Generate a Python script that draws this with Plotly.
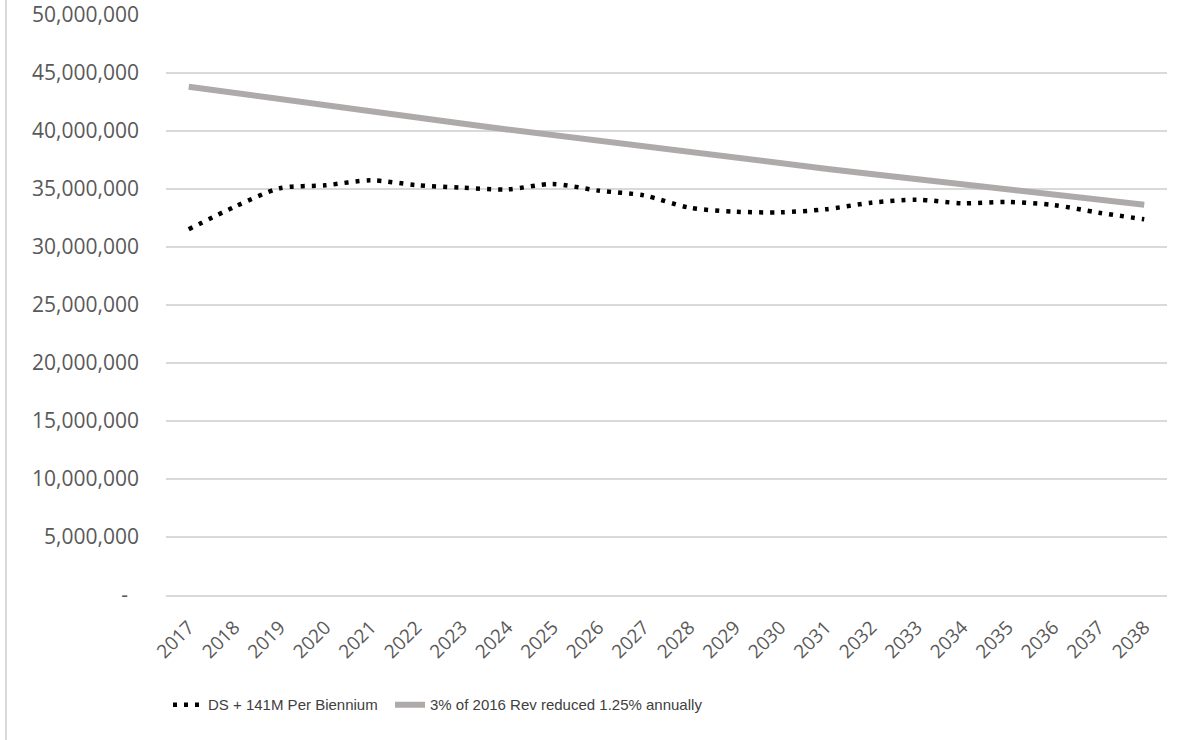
import plotly.graph_objects as go

years = [str(y) for y in range(2017, 2039)]

# Debt service plus $141M per biennium
ds_plus_141m = [31.53e6, 33.45e6, 35.06e6, 35.32e6, 35.75e6, 35.34e6, 35.11e6, 34.97e6,
                35.43e6, 34.86e6, 34.45e6, 33.39e6, 33.05e6, 32.99e6, 33.25e6, 33.82e6,
                34.08e6, 33.77e6, 33.88e6, 33.62e6, 32.96e6, 32.39e6]

# 3% of 2016 revenue, reduced 1.25% each year
rev_3pct = [43.82e6, 43.27e6, 42.73e6, 42.20e6, 41.67e6, 41.15e6, 40.64e6, 40.13e6,
            39.63e6, 39.13e6, 38.64e6, 38.16e6, 37.68e6, 37.21e6, 36.75e6, 36.29e6,
            35.83e6, 35.38e6, 34.94e6, 34.51e6, 34.07e6, 33.65e6]

y_tickvals = [0, 5e6, 10e6, 15e6, 20e6, 25e6, 30e6, 35e6, 40e6, 45e6, 50e6]
y_ticktext = ["-\u00a0\u00a0", "5,000,000", "10,000,000", "15,000,000", "20,000,000",
              "25,000,000", "30,000,000", "35,000,000", "40,000,000", "45,000,000",
              "50,000,000"]

label_font = "Open Sans, Calibri, sans-serif"
legend_font = "Liberation Sans, Arial, sans-serif"

fig = go.Figure()
fig.add_trace(go.Scatter(
    x=years, y=ds_plus_141m, name="DS + 141M Per Biennium", legend="legend",
    mode="lines", line=dict(color="#000000", width=4.5, dash="4px,7px", shape="spline", smoothing=0.8),
))
fig.add_trace(go.Scatter(
    x=years, y=rev_3pct, name="3% of 2016 Rev reduced 1.25% annually", legend="legend2",
    mode="lines", line=dict(color="#aeaaaa", width=6),
))

legend_common = dict(orientation="h", xanchor="left", yanchor="top", y=-0.161,
                     font=dict(family=legend_font, size=15, color="#404040"),
                     bgcolor="rgba(0,0,0,0)", itemwidth=30)

fig.update_layout(
    width=1192, height=740,
    margin=dict(l=166, r=25, t=15, b=145, autoexpand=False),
    paper_bgcolor="white", plot_bgcolor="white",
    showlegend=True,
    legend=dict(x=0.002, **legend_common),
    legend2=dict(x=0.2238, **legend_common),
    xaxis=dict(type="category", tickangle=-45, showgrid=False, automargin=False,
               showline=True, linecolor="#d9d9d9", linewidth=1.5,
               tickfont=dict(family=label_font, size=19, color="#595959"),
               ticklabelstandoff=12, range=[-0.5, 21.5]),
    yaxis=dict(range=[0, 50e6], tickvals=y_tickvals, ticktext=y_ticktext, automargin=False,
               showgrid=True, gridcolor="#d9d9d9", gridwidth=1.5, zeroline=False,
               tickfont=dict(family=label_font, size=21, color="#595959"),
               ticklabelstandoff=26),
    shapes=[dict(type="line", xref="paper", yref="paper",
                 x0=-160 / 1001, x1=-160 / 1001, y0=-145 / 580, y1=1 + 15 / 580,
                 line=dict(color="#d9d9d9", width=2))],
)

fig.write_html("out.html")
